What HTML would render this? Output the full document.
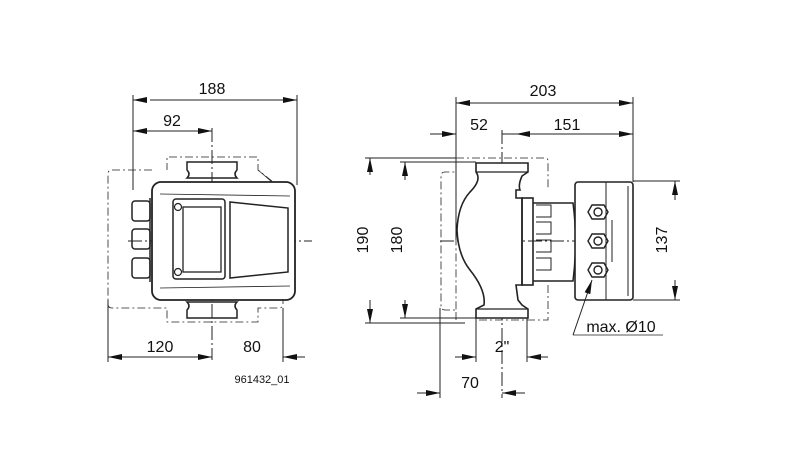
<!DOCTYPE html>
<html><head><meta charset="utf-8"><style>
html,body{margin:0;padding:0;background:#fff;}
svg{display:block}
text{font-family:"Liberation Sans",Arial,sans-serif;fill:#111}
</style></head><body>
<svg width="800" height="465" viewBox="0 0 800 465" xmlns="http://www.w3.org/2000/svg">
<defs>
<marker id="a" markerWidth="14" markerHeight="6" refX="14" refY="3" orient="auto" markerUnits="userSpaceOnUse"><path d="M0,0 L14,3 L0,6 z" fill="#111"/></marker>
</defs>
<g stroke="#222" stroke-width="1" fill="none">
<!-- LEFT VIEW dims -->
<line x1="133" y1="95" x2="133" y2="190"/>
<line x1="297" y1="95" x2="297" y2="185"/>
<line x1="147" y1="100" x2="133" y2="100" marker-end="url(#a)"/>
<line x1="150" y1="100" x2="297" y2="100" marker-end="url(#a)"/>
<line x1="150" y1="131" x2="133" y2="131" marker-end="url(#a)"/>
<line x1="150" y1="131" x2="212" y2="131" marker-end="url(#a)"/>
<line x1="212" y1="128" x2="212" y2="360" stroke-dasharray="14,3,2,3"/>
<line x1="128" y1="241" x2="312" y2="241" stroke-dasharray="14,3,2,3"/>
<line x1="108" y1="300" x2="108" y2="362"/>
<line x1="283" y1="308" x2="283" y2="362"/>
<line x1="150" y1="357" x2="108" y2="357" marker-end="url(#a)"/>
<line x1="150" y1="357" x2="212" y2="357" marker-end="url(#a)"/>
<line x1="305" y1="357" x2="283" y2="357" marker-end="url(#a)"/>
<!-- dashed outline left -->
<path d="M152,170 L112,170 Q108,170 108,174 L108,304 Q108,308 112,308 L167,308 L167,322 L258,322 L258,308 L279,308 Q283,308 283,304 L283,190 L258,170 L258,157 L167,157 L167,170" stroke-dasharray="8,3,2,3" stroke-width="0.8"/>
<!-- body -->
<path d="M187,162 L237,162 L237,170 Q233,174 237,178 L187,178 Q191,174 187,170 Z" stroke-width="1.5"/>
<path d="M187,302 L237,302 Q233,306 237,310 L237,318 L187,318 L187,310 Q191,306 187,302 Z" stroke-width="1.5"/>
<rect x="152" y="182" width="143" height="118" rx="9" stroke-width="1.8" fill="#fff"/>
<path d="M160,194 L290,196 M160,288 L290,286" stroke-width="0.8"/>
<rect x="132" y="201" width="18" height="20" rx="3" stroke-width="1.5"/>
<rect x="132" y="229" width="18" height="20" rx="3" stroke-width="1.5"/>
<rect x="132" y="258" width="18" height="20" rx="3" stroke-width="1.5"/>
<line x1="150" y1="198" x2="150" y2="282" stroke-width="1.5"/>
<rect x="173" y="199" width="52" height="80" rx="3" stroke-width="1.5"/>
<rect x="183" y="207" width="38" height="65" stroke-width="1.3"/>
<circle cx="178" cy="207" r="3.5" stroke-width="1.2"/>
<circle cx="178" cy="272" r="3.5" stroke-width="1.2"/>
<path d="M230,202 L288,208 L288,272 L230,278 Z" stroke-width="1.5"/>
<!-- RIGHT VIEW dims -->
<line x1="456" y1="97" x2="456" y2="240"/>
<line x1="633" y1="97" x2="633" y2="182"/>
<line x1="470" y1="103" x2="456" y2="103" marker-end="url(#a)"/>
<line x1="470" y1="103" x2="633" y2="103" marker-end="url(#a)"/>
<line x1="430" y1="134" x2="456" y2="134" marker-end="url(#a)"/>
<line x1="540" y1="134" x2="516" y2="134" marker-end="url(#a)"/>
<line x1="540" y1="134" x2="633" y2="134" marker-end="url(#a)"/>
<line x1="516" y1="134" x2="502" y2="134"/>
<line x1="502" y1="130" x2="502" y2="398" stroke-dasharray="14,3,2,3"/>
<line x1="440" y1="241" x2="620" y2="241" stroke-dasharray="14,3,2,3"/>
<line x1="365" y1="158" x2="456" y2="158"/>
<line x1="365" y1="323" x2="465" y2="323"/>
<line x1="400" y1="162" x2="476" y2="162"/>
<line x1="400" y1="318" x2="476" y2="318"/>
<line x1="370" y1="175" x2="370" y2="158" marker-end="url(#a)"/>
<line x1="370" y1="300" x2="370" y2="323" marker-end="url(#a)"/>
<line x1="405" y1="180" x2="405" y2="162" marker-end="url(#a)"/>
<line x1="405" y1="300" x2="405" y2="318" marker-end="url(#a)"/>
<line x1="633" y1="181" x2="680" y2="181"/>
<line x1="633" y1="300" x2="680" y2="300"/>
<line x1="675" y1="200" x2="675" y2="181" marker-end="url(#a)"/>
<line x1="675" y1="280" x2="675" y2="300" marker-end="url(#a)"/>
<line x1="476" y1="318" x2="476" y2="362"/>
<line x1="527" y1="318" x2="527" y2="362"/>
<line x1="455" y1="357" x2="476" y2="357" marker-end="url(#a)"/>
<line x1="548" y1="357" x2="527" y2="357" marker-end="url(#a)"/>
<line x1="440" y1="308" x2="440" y2="398"/>
<line x1="417" y1="393" x2="440" y2="393" marker-end="url(#a)"/>
<line x1="525" y1="393" x2="502" y2="393" marker-end="url(#a)"/>
<!-- dashed outline right -->
<path d="M456,158 L545,158 Q548,158 548,161 L548,188 M548,285 L548,320 L476,320 M456,320 L456,310 L445,310 Q441,310 441,306 L441,176 Q441,172 445,172 L456,172 Z" stroke-dasharray="8,3,2,3" stroke-width="0.8"/>
<!-- pump body -->
<path d="M476,163 L528,163 L528,172 L522,176 Q518,185 520,190 L516,190 L516,198 L522,198 L522,285 L516,285 L518,300 L522,305 L528,309 L528,318 L476,318 L476,309 L484,305 Q486,290 470,270 Q458,255 457,230 Q458,205 470,192 Q482,180 476,172 Z" stroke-width="1.6" fill="#fff"/>
<line x1="476" y1="172" x2="528" y2="172" stroke-width="1.2"/>
<line x1="476" y1="309" x2="528" y2="309" stroke-width="1.2"/>
<rect x="522" y="198" width="11" height="87" stroke-width="1.6"/>
<path d="M533,203 L573,203 Q578,241 573,281 L533,281" stroke-width="1.5"/>
<path d="M536,205 h15 v12 h-15 M536,222 h15 v12 h-15 M536,240 h15 v12 h-15 M536,258 h15 v12 h-15" stroke-width="1"/>
<!-- control box -->
<rect x="575" y="182" width="58" height="118" rx="3" stroke-width="1.6" fill="#fff"/>
<line x1="606" y1="182" x2="606" y2="300" stroke-width="1"/>
<line x1="628" y1="186" x2="628" y2="296" stroke-width="1"/>
<line x1="612" y1="220" x2="612" y2="262" stroke-width="1"/>
<g stroke-width="1.4">
<path d="M592,205 L604,205 L608,212 L604,219 L592,219 L588,212 Z"/><circle cx="598" cy="212" r="4"/>
<path d="M592,234 L604,234 L608,241 L604,248 L592,248 L588,241 Z"/><circle cx="598" cy="241" r="4"/>
<path d="M592,263 L604,263 L608,270 L604,277 L592,277 L588,270 Z"/><circle cx="598" cy="270" r="4"/>
</g>
<line x1="663" y1="335" x2="573" y2="335" stroke-width="0.8"/>
<line x1="573" y1="335" x2="592" y2="280" marker-end="url(#a)"/>
<line x1="258" y1="170" x2="272" y2="182" stroke-width="0.8"/>
</g>
<g font-size="16" text-anchor="middle">
<text x="212" y="94">188</text>
<text x="172" y="126">92</text>
<text x="160" y="352">120</text>
<text x="252" y="352">80</text>
<text x="262" y="383" font-size="11">961432_01</text>
<text x="543" y="96">203</text>
<text x="479" y="130">52</text>
<text x="567" y="130">151</text>
<text x="502" y="352">2"</text>
<text x="470" y="388">70</text>
<text x="621" y="332">max. Ø10</text>
<text transform="translate(368,240) rotate(-90)">190</text>
<text transform="translate(402,240) rotate(-90)">180</text>
<text transform="translate(667,240) rotate(-90)">137</text>
</g>
</svg>
</body></html>
